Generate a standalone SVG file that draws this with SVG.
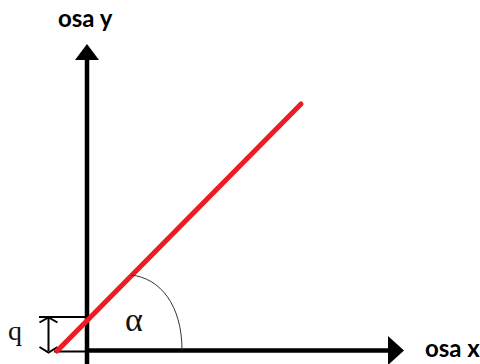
<svg xmlns="http://www.w3.org/2000/svg" width="480" height="364" viewBox="0 0 480 364">
<style>
.axis{stroke:#000;stroke-width:4.5;fill:none}
.thin{stroke:#000;stroke-width:2;fill:none}
.lbl{font-family:Lato,"Liberation Sans",sans-serif;font-weight:700;font-size:24px;fill:#000}
.ser{font-family:"Liberation Serif","Times New Roman",serif;fill:#111}
</style>
<rect width="480" height="364" fill="#fff"/>
<g id="axes">
<line class="axis" x1="87" y1="56" x2="87" y2="364"/>
<polygon points="75,60 87,44 99,60" fill="#000"/>
<line class="axis" x1="85" y1="350.5" x2="392" y2="350.5"/>
<polygon points="388,336 404,350.5 388,365" fill="#000"/>
</g>
<g id="q-bracket">
<line class="thin" x1="39" y1="317" x2="87" y2="317"/>
<line class="thin" x1="54" y1="351.5" x2="87" y2="351.5"/>
<line class="thin" x1="48.5" y1="318" x2="48.5" y2="351"/>
<polyline class="thin" stroke-width="2.5" points="39.5,322.5 48.5,317.5 57.5,322.5"/>
<polyline class="thin" stroke-width="2.5" points="39.5,347 48.5,352.5 57.5,347"/>
</g>
<g id="line">
<line x1="57" y1="351" x2="301" y2="104" stroke="#ed1c24" stroke-width="5" stroke-linecap="round"/>
</g>
<g id="angle">
<path d="M131,275 C160,278 182,305 182,350" fill="none" stroke="#333" stroke-width="1"/>
</g>
<g id="labels">
<text class="lbl" x="58" y="27">osa y</text>
<text class="lbl" x="425" y="357">osa x</text>
<text class="ser" x="8" y="340" font-size="28">q</text>
<text class="ser" x="125" y="331" font-size="34">α</text>
</g>
</svg>
